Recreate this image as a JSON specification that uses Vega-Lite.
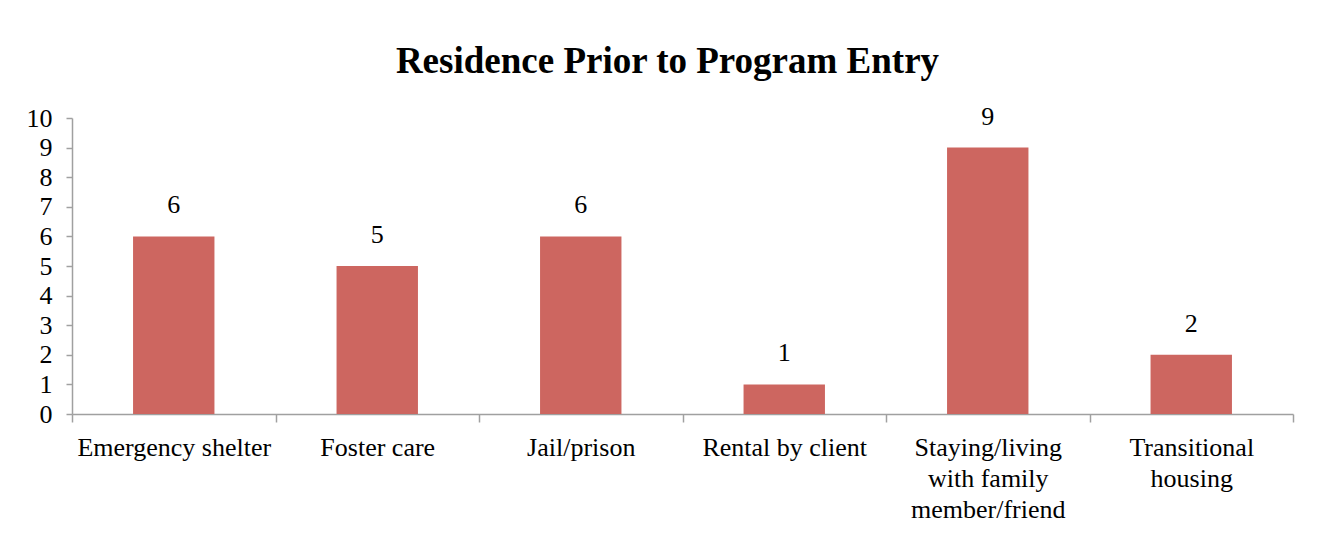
{
  "$schema": "https://vega.github.io/schema/vega-lite/v6.json",
  "autosize": {"type": "none"},
  "width": 1221,
  "height": 296,
  "padding": {"left": 72, "top": 118, "right": 30, "bottom": 125},
  "background": "white",
  "config": {"view": {"stroke": null}, "font": "Liberation Serif"},
  "title": {"text": "Residence Prior to Program Entry", "font": "Liberation Serif", "fontSize": 37, "fontWeight": "bold", "color": "#000000", "anchor": "middle", "offset": 23, "dx": -15},
  "data": {"values": [
    {"category": "Emergency shelter", "count": 6},
    {"category": "Foster care", "count": 5},
    {"category": "Jail/prison", "count": 6},
    {"category": "Rental by client", "count": 1},
    {"category": "Staying/living with family member/friend", "count": 9},
    {"category": "Transitional housing", "count": 2}
  ]},
  "encoding": {
    "x": {"field": "category", "type": "nominal", "sort": null, "title": null,
      "scale": {"paddingInner": 0, "paddingOuter": 0},
      "axis": {"labelAngle": 0, "tickBand": "extent", "domainColor": "#a0a0a0", "tickColor": "#a0a0a0", "tickSize": 8, "domainWidth": 1.5, "tickWidth": 1.5, "labelFont": "Liberation Serif", "labelFontSize": 26, "labelColor": "#000000", "labelPadding": 12, "labelLineHeight": 31, "labelBaseline": "top", "labelOverlap": false, "labelLimit": 400,
        "labelExpr": "datum.value == 'Staying/living with family member/friend' ? ['Staying/living', 'with family', 'member/friend'] : datum.value == 'Transitional housing' ? ['Transitional', 'housing'] : datum.value"}},
    "y": {"field": "count", "type": "quantitative", "title": null,
      "scale": {"domain": [0, 10]},
      "axis": {"values": [0,1,2,3,4,5,6,7,8,9,10], "grid": false, "domainColor": "#a0a0a0", "tickColor": "#a0a0a0", "domainWidth": 1.5, "tickWidth": 1.5, "tickSize": 6, "labelFont": "Liberation Serif", "labelFontSize": 26, "labelColor": "#000000", "labelPadding": 14, "labelOverlap": false}}
  },
  "layer": [
    {"mark": {"type": "bar", "color": "#CD6660", "width": {"band": 0.4}}},
    {"mark": {"type": "text", "baseline": "bottom", "dy": -18, "font": "Liberation Serif", "fontSize": 26, "color": "#000000"},
     "encoding": {"text": {"field": "count", "type": "quantitative"}}}
  ]
}
